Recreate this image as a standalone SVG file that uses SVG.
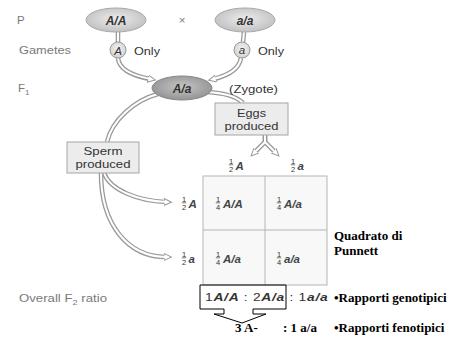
<svg xmlns="http://www.w3.org/2000/svg" width="463" height="340" viewBox="0 0 463 340">
  <defs>
    <radialGradient id="gParent" cx="50%" cy="45%" r="60%">
      <stop offset="0" stop-color="#ececec"/>
      <stop offset="1" stop-color="#bdbdbd"/>
    </radialGradient>
    <radialGradient id="gF1" cx="50%" cy="45%" r="60%">
      <stop offset="0" stop-color="#c6c6c6"/>
      <stop offset="1" stop-color="#8f8f8f"/>
    </radialGradient>
    <radialGradient id="gGamete" cx="50%" cy="45%" r="60%">
      <stop offset="0" stop-color="#f4f4f4"/>
      <stop offset="1" stop-color="#cfcfcf"/>
    </radialGradient>
    <marker id="ah" markerUnits="userSpaceOnUse" markerWidth="10" markerHeight="10" refX="2" refY="4" orient="auto">
      <path d="M0,0.5 L7.5,4 L0,7.5 Z" fill="#fff" stroke="#999" stroke-width="1"/>
    </marker>
  </defs>
  <style>
    .lbl { font-family: "Liberation Sans", Arial, sans-serif; font-size: 11.5px; fill: #7a7a7a; }
    .txt { font-family: "Liberation Sans", Arial, sans-serif; font-size: 11.5px; fill: #333; }
    .geno { font-family: "Liberation Sans", Arial, sans-serif; font-size: 12px; font-weight: bold; font-style: italic; fill: #333; }
    .cell { font-family: "Liberation Sans", Arial, sans-serif; font-size: 11.5px; font-weight: bold; font-style: italic; fill: #444; }
    .fr { font-family: "Liberation Sans", Arial, sans-serif; font-size: 7.5px; fill: #333; text-anchor: middle; }
    .bar { stroke: #444; stroke-width: 0.7; }
    .ser { font-family: "Liberation Serif", "Times New Roman", serif; font-size: 13px; font-weight: bold; fill: #000; }
    .tubeO { fill: none; stroke: #9a9a9a; stroke-width: 4.6; }
    .tubeI { fill: none; stroke: #fff; stroke-width: 2; }
    .box { fill: #ececec; stroke: #a5a5a5; stroke-width: 1; }
    .bi { font-weight: bold; font-style: italic; }
  </style>

  <!-- row labels -->
  <g id="row-labels">
    <text class="lbl" x="17" y="24">P</text>
    <text class="lbl" x="19" y="54" textLength="52" lengthAdjust="spacingAndGlyphs">Gametes</text>
    <text class="lbl" x="18" y="92">F<tspan font-size="8" dy="3">1</tspan></text>
    <text class="lbl" x="19" y="302" textLength="88" lengthAdjust="spacingAndGlyphs">Overall F<tspan font-size="8" dy="3">2</tspan><tspan dy="-3"> ratio</tspan></text>
  </g>

  <!-- connectors -->
  <g id="connectors">
    <path class="tubeO" d="M118,31 L118,42"/>
    <path class="tubeI" d="M118,31 L118,42"/>
    <path class="tubeO" d="M244,32 L243,42"/>
    <path class="tubeI" d="M244,32 L243,42"/>
    <path class="tubeO" marker-end="url(#ah)" d="M118,58 C119,70 134,76 150,79"/>
    <path class="tubeI" d="M118,58 C119,70 134,76 151,79"/>
    <path class="tubeO" marker-end="url(#ah)" d="M241,58 C239,70 226,76 214,79"/>
    <path class="tubeI" d="M241,58 C239,70 226,76 213,79"/>
    <path class="tubeO" d="M158,94 C135,100 112,120 107,142"/>
    <path class="tubeI" d="M158,94 C135,100 112,120 107,142"/>
    <path class="tubeO" d="M207,92 C226,93 237,97 243,103"/>
    <path class="tubeI" d="M207,92 C226,93 237,97 243,103"/>
    <path class="tubeO" marker-end="url(#ah)" d="M265,135 L265,142 L255,152"/>
    <path class="tubeO" marker-end="url(#ah)" d="M265,135 L265,142 L275,152"/>
    <path class="tubeI" d="M265,135 L265,142 L256,151"/>
    <path class="tubeI" d="M265,135 L265,142 L274,151"/>
    <path class="tubeO" marker-end="url(#ah)" d="M104,173 C110,190 138,201 166,202"/>
    <path class="tubeI" d="M104,173 C110,190 138,201 167,202"/>
    <path class="tubeO" marker-end="url(#ah)" d="M101,173 C101,225 128,257 166,257"/>
    <path class="tubeI" d="M101,173 C101,225 128,257 167,257"/>
  </g>

  <!-- parents -->
  <g id="parent-AA">
    <ellipse cx="116" cy="20" rx="30" ry="12" fill="url(#gParent)" stroke="#a8a8a8"/>
    <text class="geno" x="116" y="25" text-anchor="middle">A/A</text>
  </g>
  <text class="lbl" x="182" y="24" text-anchor="middle" fill="#888">×</text>
  <g id="parent-aa">
    <ellipse cx="245" cy="20" rx="30" ry="12" fill="url(#gParent)" stroke="#a8a8a8"/>
    <text class="geno" x="245" y="25" text-anchor="middle">a/a</text>
  </g>

  <!-- gametes -->
  <g id="gamete-A">
    <circle cx="118" cy="50" r="8" fill="url(#gGamete)" stroke="#999"/>
    <text class="txt" x="118" y="54.5" text-anchor="middle" font-style="italic" font-size="12">A</text>
    <text class="txt" x="134" y="55" textLength="26" lengthAdjust="spacingAndGlyphs">Only</text>
  </g>
  <g id="gamete-a">
    <circle cx="242" cy="50" r="8" fill="url(#gGamete)" stroke="#999"/>
    <text class="txt" x="242" y="54" text-anchor="middle" font-style="italic" font-size="12">a</text>
    <text class="txt" x="258" y="55" textLength="26" lengthAdjust="spacingAndGlyphs">Only</text>
  </g>

  <!-- F1 zygote -->
  <g id="f1">
    <ellipse cx="182" cy="88" rx="30" ry="12" fill="url(#gF1)" stroke="#888"/>
    <text class="geno" x="182" y="93" text-anchor="middle">A/a</text>
    <text class="txt" x="229" y="93" textLength="49" lengthAdjust="spacingAndGlyphs">(Zygote)</text>
  </g>

  <!-- egg and sperm boxes -->
  <g id="eggs">
    <rect class="box" x="215" y="103" width="73" height="32"/>
    <text class="txt" x="251.5" y="117" text-anchor="middle" textLength="29" lengthAdjust="spacingAndGlyphs">Eggs</text>
    <text class="txt" x="251.5" y="130" text-anchor="middle" textLength="54" lengthAdjust="spacingAndGlyphs">produced</text>
  </g>
  <g id="sperm">
    <rect class="box" x="67" y="142" width="72" height="31"/>
    <text class="txt" x="103" y="155" text-anchor="middle" textLength="39" lengthAdjust="spacingAndGlyphs">Sperm</text>
    <text class="txt" x="103" y="167.5" text-anchor="middle" textLength="55" lengthAdjust="spacingAndGlyphs">produced</text>
  </g>

  <!-- Punnett square -->
  <g id="punnett">
    <rect x="203" y="176" width="124" height="109" fill="#f8f8f8" stroke="#b5b5b5"/>
    <line x1="265" y1="176" x2="265" y2="285" stroke="#b5b5b5"/>
    <line x1="203" y1="230" x2="327" y2="230" stroke="#b5b5b5"/>

    <!-- egg headers -->
    <text class="fr" x="231" y="163.5">1</text><line class="bar" x1="228.8" x2="233.2" y1="164.8" y2="164.8"/><text class="fr" x="231" y="171.5">2</text>
    <text class="cell" x="235.5" y="169.5" font-size="11">A</text>
    <text class="fr" x="293" y="163.5">1</text><line class="bar" x1="290.8" x2="295.2" y1="164.8" y2="164.8"/><text class="fr" x="293" y="171.5">2</text>
    <text class="cell" x="297.5" y="169.5" font-size="11">a</text>

    <!-- sperm headers -->
    <text class="fr" x="184" y="201.5">1</text><line class="bar" x1="181.8" x2="186.2" y1="202.8" y2="202.8"/><text class="fr" x="184" y="209.5">2</text>
    <text class="cell" x="188.5" y="207.5" font-size="11">A</text>
    <text class="fr" x="184" y="256.5">1</text><line class="bar" x1="181.8" x2="186.2" y1="257.8" y2="257.8"/><text class="fr" x="184" y="264.5">2</text>
    <text class="cell" x="188.5" y="262.5" font-size="11">a</text>

    <!-- cells -->
    <text class="fr" x="218" y="201.5">1</text><line class="bar" x1="215.8" x2="220.2" y1="202.8" y2="202.8"/><text class="fr" x="218" y="209.5">4</text>
    <text class="cell" x="223" y="207.5">A/A</text>
    <text class="fr" x="279" y="201.5">1</text><line class="bar" x1="276.8" x2="281.2" y1="202.8" y2="202.8"/><text class="fr" x="279" y="209.5">4</text>
    <text class="cell" x="284" y="207.5">A/a</text>
    <text class="fr" x="218" y="256.5">1</text><line class="bar" x1="215.8" x2="220.2" y1="257.8" y2="257.8"/><text class="fr" x="218" y="264.5">4</text>
    <text class="cell" x="223" y="262.5">A/a</text>
    <text class="fr" x="279" y="256.5">1</text><line class="bar" x1="276.8" x2="281.2" y1="257.8" y2="257.8"/><text class="fr" x="279" y="264.5">4</text>
    <text class="cell" x="284" y="262.5">a/a</text>
  </g>

  <g id="punnett-title">
    <text class="ser" x="334" y="240">Quadrato di</text>
    <text class="ser" x="334" y="255">Punnett</text>
  </g>

  <!-- overall ratios -->
  <g id="genotype-ratio">
    <g transform="translate(205,301) scale(1.2,1)">
      <text class="txt" x="0" y="0" font-size="12.5" fill="#555" letter-spacing="0.6">1<tspan class="bi">A/A</tspan> : 2<tspan class="bi">A/a</tspan> : 1<tspan class="bi">a/a</tspan></text>
    </g>
    <path d="M200,285 H286 V309 H253 V314 H266 L242,323 L214,314 H224 V309 H200 Z" fill="none" stroke="#000" stroke-width="1"/>
    <text class="ser" x="334" y="302">•Rapporti genotipici</text>
  </g>
  <g id="phenotype-ratio">
    <text class="ser" x="235" y="332" font-size="11">3 A-</text>
    <text class="ser" x="283" y="332" font-size="11">: 1 a/a</text>
    <text class="ser" x="334" y="332">•Rapporti fenotipici</text>
  </g>
</svg>
